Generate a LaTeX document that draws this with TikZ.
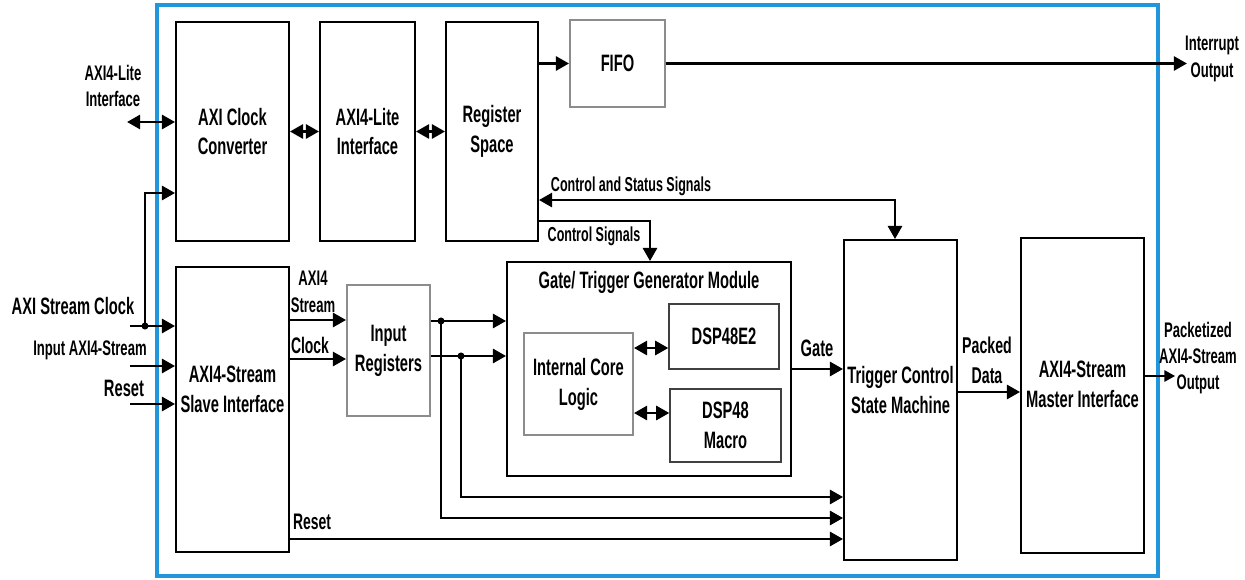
\documentclass[tikz,border=0pt]{standalone}
\usepackage{fontspec}
\setmainfont{Liberation Sans}[FakeStretch=0.62]
\usetikzlibrary{arrows.meta,calc}
\definecolor{frameblue}{RGB}{34,150,218}

\begin{document}
\begin{tikzpicture}[x=0.02cm, y=-0.02cm,
  blk/.style={draw, line width=1.1pt, align=center, inner sep=2pt,
    font=\fontsize{13.5}{17}\selectfont\bfseries},
  gbox/.style={blk, draw=black!45},
  dsp/.style={blk, draw=black!75, line width=0.8pt},
  txt/.style={blk, draw=none},
  lbl/.style={align=center, inner sep=0pt, font=\fontsize{12}{15}\selectfont\bfseries},
  big/.style={lbl, font=\fontsize{13.5}{16}\selectfont\bfseries},
  arr/.style={line width=1.6pt, -{Triangle[length=7.5pt,width=8pt]}},
  dbl/.style={line width=1.6pt, {Triangle[length=7.5pt,width=8pt]}-{Triangle[length=7.5pt,width=8pt]}}]
  \useasboundingbox (0,0) rectangle (1245,579);
  \draw[frameblue, line width=2.3pt] (157,5) rectangle (1158,576);

  % blocks
  \node[blk, minimum width=2.26cm, minimum height=4.38cm] (acc) at (232.5,131.5) {AXI Clock\\Converter};
  \node[blk, minimum width=1.9cm, minimum height=4.38cm] (lite) at (367.5,131.5) {AXI4-Lite\\Interface};
  \node[blk, minimum width=1.84cm, minimum height=4.38cm] (regs) at (492,131.5) {Register\\Space};
  \node[gbox, minimum width=1.9cm, minimum height=1.74cm] (fifo) at (617.5,63.5) {FIFO};
  \node[blk, minimum width=2.26cm, minimum height=5.7cm] (slave) at (232.5,409.5) {};
  \node[txt] (slavetxt) at (232.5,389) {AXI4-Stream\\Slave Interface};
  \node[gbox, minimum width=1.66cm, minimum height=2.62cm] (inreg) at (388.5,350.5) {Input\\Registers};
  \node[blk, minimum width=5.68cm, minimum height=4.28cm] (gate) at (649,369) {};
  \node[txt] (gtitle) at (649,282) {Gate/ Trigger Generator Module};
  \node[gbox, minimum width=2.18cm, minimum height=2.04cm] (icl) at (578.5,384) {Internal Core\\Logic};
  \node[dsp, minimum width=2.2cm, minimum height=1.3cm] (dspa) at (724,336.5) {DSP48E2};
  \node[dsp, minimum width=2.22cm, minimum height=1.46cm] (dspb) at (725.5,425.5) {DSP48\\Macro};
  \node[blk, minimum width=2.26cm, minimum height=6.4cm] (tcsm) at (900.5,400) {};
  \node[txt] (tcsmtxt) at (900.5,390) {Trigger Control\\State Machine};
  \node[blk, minimum width=2.46cm, minimum height=6.3cm] (master) at (1082.5,395.5) {};
  \node[txt] (mastertxt) at (1082.5,384) {AXI4-Stream\\Master Interface};

  % labels
  \node[lbl] (litelbl) at (113,86) {AXI4-Lite\\Interface};
  \node[big] (clklbl) at (73,306) {AXI Stream Clock};
  \node[lbl] (sinlbl) at (90,350) {Input AXI4-Stream};
  \node[big] (rstlbl) at (124,388) {Reset};
  \node[lbl] (axislbl) at (313,292) {AXI4\\Stream};
  \node[lbl, font=\fontsize{12.8}{15}\selectfont\bfseries] (clk2lbl) at (310,345) {Clock};
  \node[lbl, font=\fontsize{12.8}{15}\selectfont\bfseries] (rst2lbl) at (312,522) {Reset};
  \node[lbl, font=\fontsize{11.5}{15}\selectfont\bfseries] (cslbl) at (631,186) {Control and Status Signals};
  \node[lbl, font=\fontsize{11.5}{15}\selectfont\bfseries] (ctllbl) at (594,236) {Control Signals};
  \node[big] (gatelbl) at (817,348) {Gate};
  \node[lbl, font=\fontsize{13}{17}\selectfont\bfseries] (pdlbl) at (987,360) {Packed\\Data};
  \node[lbl] (pktlbl) at (1198,358) {Packetized\\AXI4-Stream\\Output};
  \node[lbl] (irqlbl) at (1212,59) {Interrupt\\Output};

  % free ends and junctions
  \coordinate (litein) at (127,122);
  \coordinate (clkin) at (130,326);
  \coordinate (clkj) at (145,326);
  \coordinate (clkup) at (145,193);
  \coordinate (sin) at (130,366);
  \coordinate (rstin) at (130,404);
  \coordinate (irq) at (1187,63.5);
  \coordinate (pout) at (1175,376);
  \coordinate (cs) at (895,200);
  \coordinate (ctl) at (650,221);
  \coordinate (j1) at (441,321);
  \coordinate (j2) at (461,356);

  % connectors
  \draw[dbl] (litein) -- (litein -| acc.west);
  \draw[dbl] (acc) -- (lite);
  \draw[dbl] (lite) -- (regs);
  \draw[arr] (regs.east |- fifo) -- (fifo);
  \draw[arr] (fifo) -- (irq);
  \draw[dbl] (cs -| regs.east) -- (cs) -- (cs |- tcsm.north);
  \draw[arr] (ctl -| regs.east) -- (ctl) -- (ctl |- gate.north);
  \draw[arr] (clkin) -- (clkin -| slave.west);
  \draw[arr] (clkj) -- (clkup) -- (clkup -| acc.west);
  \fill (clkj) circle[radius=2pt];
  \draw[arr] (sin) -- (sin -| slave.west);
  \draw[arr] (rstin) -- (rstin -| slave.west);
  \draw[arr] (slave.east |- 0,320) -- (inreg.west |- 0,320);
  \draw[arr] (slave.east |- 0,359) -- (inreg.west |- 0,359);
  \draw[arr] (inreg.east |- j1) -- (gate.west |- j1);
  \draw[arr] (inreg.east |- j2) -- (gate.west |- j2);
  \fill (j1) circle[radius=2pt];
  \fill (j2) circle[radius=2pt];
  \draw[arr] (j2) |- (tcsm.west |- 0,497);
  \draw[arr] (j1) |- (tcsm.west |- 0,518);
  \draw[arr] (slave.east |- 0,539) -- (tcsm.west |- 0,539);
  \draw[dbl] (icl.east |- 0,348) -- (dspa.west |- 0,348);
  \draw[dbl] (icl.east |- 0,413) -- (dspb.west |- 0,413);
  \draw[arr] (gate) -- (tcsm.west |- gate);
  \draw[arr] (tcsm.east |- 0,392) -- (master.west |- 0,392);
  \draw[line width=0.7pt, -{Triangle[length=6pt,width=6.5pt]}] (master.east |- pout) -- (pout);
\end{tikzpicture}
\end{document}
